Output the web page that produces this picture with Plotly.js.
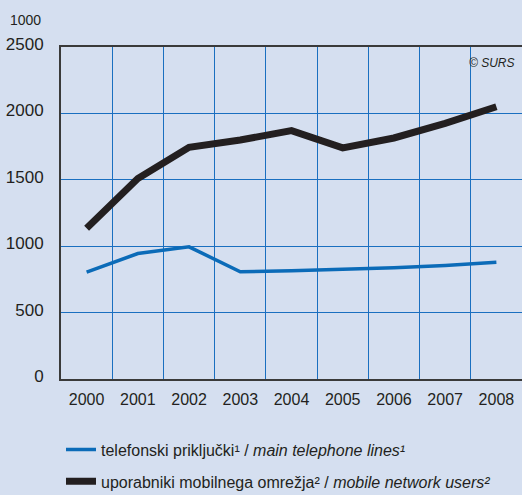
<!DOCTYPE html>
<html>
<head>
<meta charset="utf-8">
<script src="https://cdn.plot.ly/plotly-3.0.1.min.js"></script>
<style>html,body{margin:0;padding:0;background:#d5dff0;}</style>
</head>
<body>
<div id="chart" style="width:522px;height:495px;"></div>
<script>
const years = ["2000","2001","2002","2003","2004","2005","2006","2007","2008"];
const telephoneLines = [805, 945, 995, 808, 815, 825, 838, 855, 880];
const mobileUsers = [1135, 1510, 1745, 1800, 1870, 1740, 1815, 1925, 2050];
const yTicks = [0, 500, 1000, 1500, 2000, 2500];
const nameLines = "telefonski priključki¹ / <i>main telephone lines¹</i>";
const nameMobile = "uporabniki mobilnega omrežja² / <i>mobile network users²</i>";
const unitLabel = "1000";
const sourceLabel = "<i>© SURS</i>";

const FONT = "'Liberation Sans', Arial, sans-serif";

const traces = [
  {x: years, y: telephoneLines, type: "scatter", mode: "lines", name: nameLines,
   line: {color: "#0b6bb8", width: 3.5}, legendgroup: "a"},
  {x: years, y: mobileUsers, type: "scatter", mode: "lines", name: nameMobile,
   line: {color: "#231f20", width: 7}, legendgroup: "b"}
];

const layout = {
  width: 522, height: 495,
  paper_bgcolor: "#d5dff0", plot_bgcolor: "#d5dff0",
  margin: {l: 61, r: 0, t: 47, b: 116},
  font: {family: FONT, color: "#231f20", size: 16},
  showlegend: true,
  legend: {xref: "paper", yref: "container", x: 0.0, xanchor: "left", y: 0.126, yanchor: "top",
           orientation: "v", traceorder: "grouped", tracegroupgap: 8, bgcolor: "rgba(0,0,0,0)",
           font: {family: FONT, size: 16, color: "#231f20"}},
  xaxis: {type: "category", tickson: "boundaries", showgrid: true, gridcolor: "#1a6fc0", gridwidth: 1,
          showline: true, linecolor: "#3a3a3a", linewidth: 2, mirror: true, ticks: "",
          tickfont: {size: 16}, ticklabelstandoff: 5, range: [-0.5, 8.5], zeroline: false},
  yaxis: {range: [0, 2500], tickvals: yTicks, showgrid: true, gridcolor: "#1a6fc0", gridwidth: 1,
          showline: true, linecolor: "#3a3a3a", linewidth: 2, ticks: "", zeroline: false,
          tickfont: {size: 17}, ticklabelstandoff: 12, ticklabelshift: -3},
  annotations: [
    {text: unitLabel, xref: "paper", yref: "paper", x: -0.115, y: 1.081, xanchor: "left", yanchor: "middle",
     showarrow: false, font: {size: 14, color: "#231f20"}},
    {text: sourceLabel, xref: "paper", yref: "paper", x: 0.989, y: 0.952, xanchor: "right", yanchor: "middle",
     showarrow: false, font: {size: 12, color: "#231f20"}}
  ]
};

Plotly.newPlot("chart", traces, layout, {displayModeBar: false, staticPlot: true});
</script>
</body>
</html>
